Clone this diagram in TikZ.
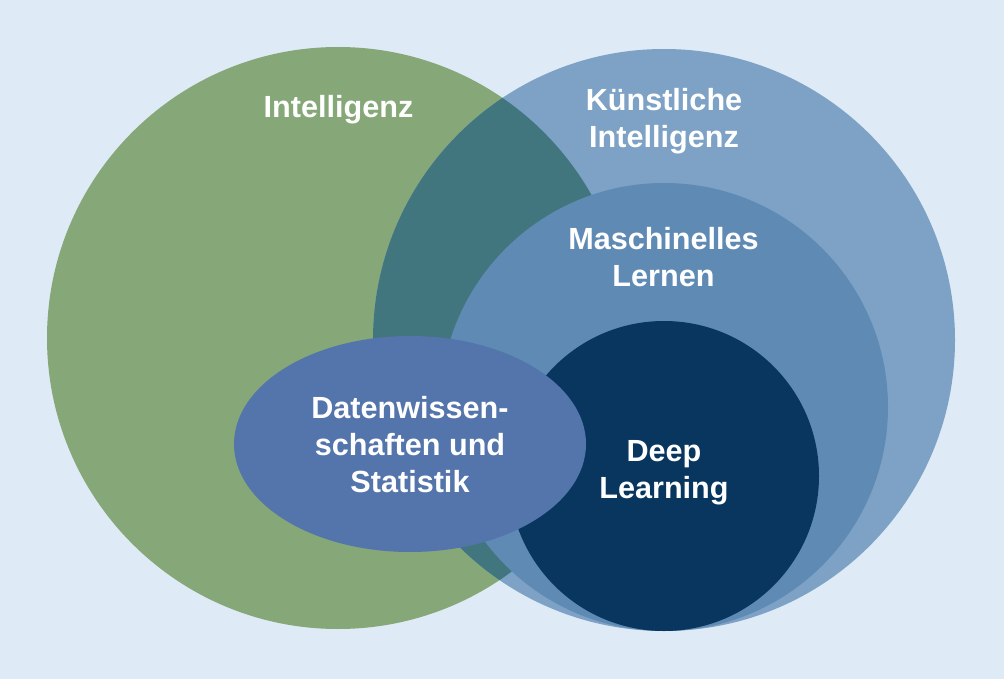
\documentclass[tikz,border=0pt]{standalone}
\usepackage{fontspec}
\setmainfont{Liberation Sans}
\definecolor{bgc}{HTML}{DEEBF7}
\definecolor{greenc}{HTML}{86A777}
\definecolor{kic}{HTML}{7DA2C5}
\definecolor{tealc}{HTML}{42767F}
\definecolor{mlc}{HTML}{5E8AB4}
\definecolor{dlc}{HTML}{08365F}
\definecolor{dsc}{HTML}{5475AB}
\begin{document}
\begin{tikzpicture}[x=1pt,y=-1pt,
  lbl/.style={text=white,font=\fontsize{30.6}{37}\selectfont\bfseries,align=center,inner sep=0pt}]
\fill[bgc] (0,0) rectangle (1004,679);
\useasboundingbox (0,0) rectangle (1004,679);
% Intelligenz
\fill[greenc] (338,338) circle[radius=291];
% Kuenstliche Intelligenz
\fill[kic] (664,340) circle[radius=291];
\begin{scope}
  \clip (338,338) circle[radius=291];
  \fill[tealc] (664,340) circle[radius=291];
\end{scope}
% Maschinelles Lernen
\fill[mlc] (664,407) circle[radius=224];
% Deep Learning
\fill[dlc] (664,476) circle[radius=155];
% Datenwissenschaften
\fill[dsc] (410,444) ellipse[x radius=176,y radius=108];
\node[lbl,anchor=base] (int) at (338.5,117.5) {Intelligenz};
\node[lbl] (ki) at (664,121) {Künstliche\\Intelligenz};
\node[lbl] (ml) at (663.5,257) {Maschinelles\\Lernen};
\node[lbl] (ds) at (410,445) {Datenwissen-\\schaften und\\Statistik};
\node[lbl] (dl) at (664,472.5) {Deep\\Learning};
\end{tikzpicture}
\end{document}
